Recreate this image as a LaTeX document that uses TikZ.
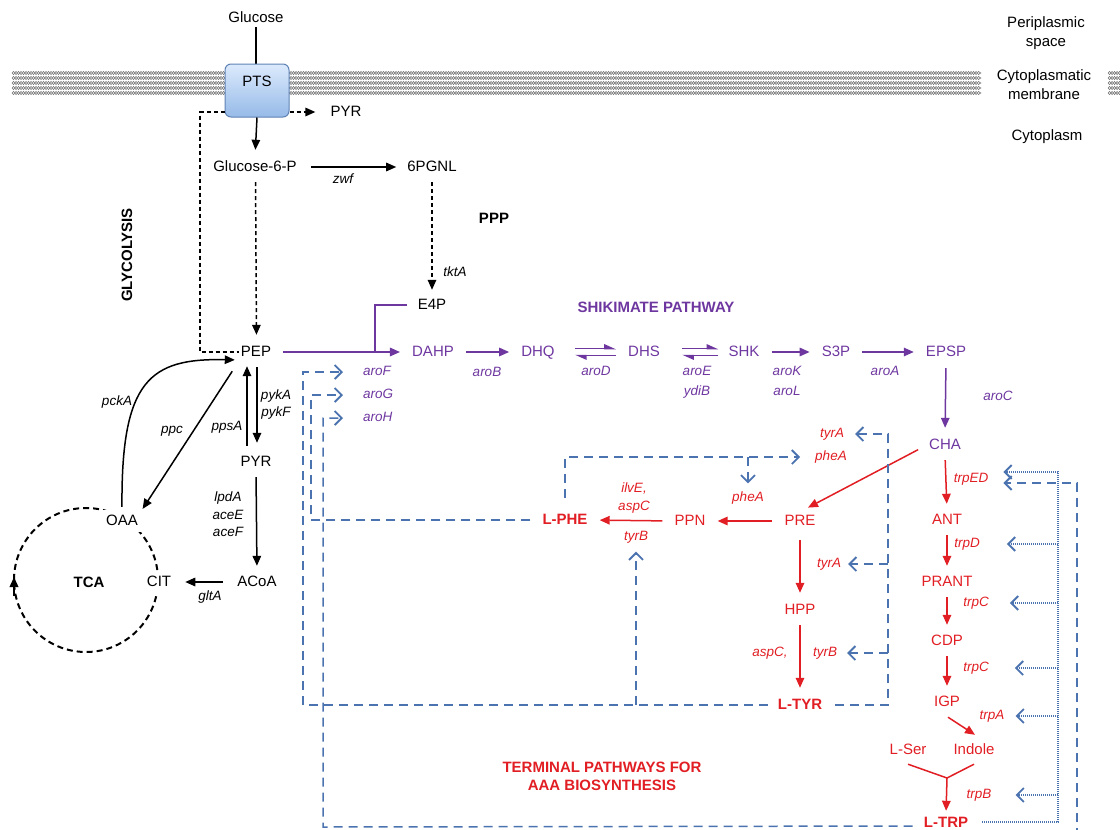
\documentclass[tikz,border=0pt]{standalone}
\usepackage{fontspec}
\setmainfont{Liberation Sans}
\usetikzlibrary{arrows.meta,decorations.pathmorphing,calc}
\definecolor{purp}{RGB}{110,55,160}
\definecolor{rd}{RGB}{225,30,35}
\definecolor{bl}{RGB}{75,115,175}
\definecolor{ptsT}{RGB}{220,234,252}
\definecolor{ptsB}{RGB}{150,186,232}
\definecolor{ptsD}{RGB}{95,130,180}
\begin{document}
\begin{tikzpicture}[x=1pt,y=-1pt,
 nd/.style={font=\fontsize{15}{19}\selectfont, inner sep=2pt, text height=11pt, text depth=3pt},
 gn/.style={font=\fontsize{13.5}{15}\selectfont\itshape, inner sep=1pt, text height=10pt, text depth=3pt},
 ttl/.style={font=\fontsize{15}{18}\selectfont\bfseries, align=center},
 bnd/.style={nd, font=\fontsize{15}{19}\selectfont\bfseries, text=rd},
 pn/.style={nd, text=purp},
 rn/.style={nd, text=rd},
 pg/.style={gn, text=purp},
 rg/.style={gn, text=rd},
 ahead/.style={-{Triangle[length=10pt,width=8.5pt]}},
 karr/.style={ahead, line width=1.5pt, black},
 parr/.style={ahead, line width=1.5pt, purp},
 rarr/.style={ahead, line width=1.5pt, rd},
 kdash/.style={line width=1.5pt, dash pattern=on 4pt off 3pt},
 fb/.style={bl, line width=1.5pt, dash pattern=on 9pt off 6pt},
 fbdot/.style={bl, line width=1.4pt, dash pattern=on 1.2pt off 0.8pt},
 fbtip/.style={-{Straight Barb[length=7pt,width=14pt,line width=1.8pt]}},
 sh/.style={shorten <=10pt, shorten >=10pt},
 vs/.style={shorten <=6pt, shorten >=7pt},
 harp/.style={purp, line width=1.5pt, -{Triangle[harpoon,length=10pt,width=8.5pt]}},
 memb/.style={black!55, line width=0.55pt, decorate, decoration={snake, amplitude=1.6pt, segment length=5pt}},
 membm/.style={black!55, line width=0.55pt, decorate, decoration={snake, amplitude=1.6pt, segment length=5pt, mirror}}
]
\useasboundingbox (0,0) rectangle (1120,830);

% membrane
\foreach \yy in {73,78,83,88,93} {
  \draw[memb] (12,\yy) -- (981,\yy);
  \draw[membm] (12,\yy) -- (981,\yy);
  \draw[memb] (1108,\yy) -- (1128,\yy);
  \draw[membm] (1108,\yy) -- (1128,\yy);
}

% TCA cycle
\draw[line width=2pt, dash pattern=on 6pt off 4pt] (86,580) circle [radius=72pt];
\draw[line width=2pt, -{Triangle[length=10pt,width=8.5pt]}] (14,596) -- (14,577);

% right labels
\node[nd, align=center, text height=, text depth=] (peri) at (1046,33) {Periplasmic\\space};
\node[nd, align=center, text height=, text depth=] (membl) at (1044,85) {Cytoplasmatic\\membrane};
\node[nd] (cyto) at (1047,136) {Cytoplasm};

% PTS
\node[nd] (glc) at (256,18) {Glucose};
\draw[line width=1.2pt] (glc.south) -- (256,64);
\node[draw=ptsD, line width=1pt, rounded corners=6pt, top color=ptsT, bottom color=ptsB, minimum width=64pt, minimum height=53pt] (pts) at (257,90.5) {};
\node[nd] (ptst) at (257,82) {PTS};
\node[nd] (pyra) at (346,112) {PYR};
\node[nd] (g6p) at (255,167) {Glucose-6-P};
\node[nd] (pgnl) at (432,167) {6PGNL};
\node[nd] (e4p) at (432,305) {E4P};
\node[nd] (pep) at (256,352) {PEP};
\node[nd] (pyrb) at (256,462) {PYR};
\node[nd] (acoa) at (257,582) {ACoA};
\node[nd, fill=white, inner sep=4pt] (cit) at (159,582) {CIT};
\node[nd, fill=white, inner sep=4pt] (oaa) at (122,521) {OAA};
\node[ttl] (tca) at (89,582) {TCA};

% titles
\node[ttl, rotate=90] (glyc) at (127,255) {GLYCOLYSIS};
\node[ttl] (ppp) at (494,218) {PPP};
\node[ttl, text=purp] (shik) at (656,307) {SHIKIMATE PATHWAY};
\node[ttl, text=rd] (term) at (602,776) {TERMINAL PATHWAYS FOR\\AAA BIOSYNTHESIS};

% shikimate nodes
\node[pn] (dahp) at (433,352) {DAHP};
\node[pn] (dhq) at (538,352) {DHQ};
\node[pn] (dhs) at (644,352) {DHS};
\node[pn] (shk) at (744,352) {SHK};
\node[pn] (s3p) at (836,352) {S3P};
\node[pn] (epsp) at (946,352) {EPSP};
\node[pn] (cha) at (945,445) {CHA};

% terminal nodes
\node[rn] (pre) at (800,521) {PRE};
\node[rn] (ppn) at (690,521) {PPN};
\node[bnd] (lphe) at (565,520) {L-PHE};
\node[rn] (hpp) at (800,610) {HPP};
\node[bnd] (ltyr) at (800,705) {L-TYR};
\node[rn] (ant) at (947,520) {ANT};
\node[rn] (prant) at (947,582) {PRANT};
\node[rn] (cdp) at (947,641) {CDP};
\node[rn] (igp) at (947,702) {IGP};
\node[rn] (indole) at (974,750) {Indole};
\node[rn] (lser) at (908,750) {L-Ser};
\node[bnd, anchor=base] (ltrp) at (946,827) {L-TRP};

% gene labels black
\node[gn] (zwf) at (343,180) {zwf};
\node[gn] (tkta) at (455,273) {tktA};
\node[gn] (pyka) at (276,396) {pykA};
\node[gn] (pykf) at (276,413) {pykF};
\node[gn] (ppsa) at (227,427) {ppsA};
\node[gn] (pcka) at (117,402) {pckA};
\node[gn] (ppc) at (172,430) {ppc};
\node[gn] (lpda) at (228,498) {lpdA};
\node[gn] (acee) at (228,516) {aceE};
\node[gn] (acef) at (228,533) {aceF};
\node[gn] (glta) at (210,597) {gltA};
% gene labels purple
\node[pg, anchor=west] (arof) at (362,372) {aroF};
\node[pg, anchor=west] (arog) at (362,395) {aroG};
\node[pg, anchor=west] (aroh) at (362,418) {aroH};
\node[pg] (arob) at (487,373) {aroB};
\node[pg] (arod) at (596,372) {aroD};
\node[pg] (aroe) at (697,372) {aroE};
\node[pg] (ydib) at (697,392) {ydiB};
\node[pg] (arok) at (787,372) {aroK};
\node[pg] (arol) at (787,392) {aroL};
\node[pg] (aroa) at (885,372) {aroA};
\node[pg] (aroc) at (998,397) {aroC};
% gene labels red
\node[rg] (tyra) at (832,434) {tyrA};
\node[rg] (phea) at (831,457) {pheA};
\node[rg] (pheb) at (748,498) {pheA};
\node[rg] (ilve) at (634,489) {ilvE,};
\node[rg] (aspc) at (634,507) {aspC};
\node[rg] (tyrb) at (636,537) {tyrB};
\node[rg] (tyrab) at (829,564) {tyrA};
\node[rg] (aspcb) at (770,653) {aspC,};
\node[rg] (tyrbb) at (825,653) {tyrB};
\node[rg] (trped) at (971,479) {trpED};
\node[rg] (trpd) at (967,544) {trpD};
\node[rg] (trpc) at (976,603) {trpC};
\node[rg] (trpcb) at (976,668) {trpC};
\node[rg] (trpa) at (992,716) {trpA};
\node[rg] (trpb) at (979,795) {trpB};

% coordinates
\coordinate (gl) at (200,352);
\coordinate (j) at (375,352);
\coordinate (tj) at (947,778);
\coordinate (vx) at (888,0);
\coordinate (dvx) at (1058,0);
\coordinate (dv0) at (982,822);

% black connectors
\draw[kdash, ahead, shorten >=13pt] (pts.east |- pyra) -- (pyra.west);
\draw[kdash] (pts.west |- pyra) -| (gl) -- (pep.west);
\draw[karr, shorten >=8pt] (pts.south) -- (g6p.north);
\draw[karr, shorten <=12pt, shorten >=9pt] (g6p.east) -- (pgnl.west);
\draw[kdash, ahead, shorten <=6pt, shorten >=6pt] (pgnl.south) -- (e4p.north);
\draw[kdash, ahead, shorten <=6pt, shorten >=8pt] ([xshift=0.5pt]g6p.south) -- ([xshift=0.5pt]pep.north);
\draw[karr, shorten <=6pt, shorten >=10pt] ([xshift=1pt]pep.south) -- ([xshift=1pt]pyrb.north);
\draw[karr, shorten <=7pt, shorten >=5pt] ([xshift=-9pt]pyrb.north) -- ([xshift=-9pt]pep.south);
\draw[karr, vs] (pyrb.south) -- (acoa.north);
\draw[karr, shorten <=12pt, shorten >=10pt] (acoa.west) -- (cit.east);
\draw[karr, shorten <=12pt, shorten >=1pt] (pep.south west) -- (oaa.north east);
\draw[karr, shorten <=3pt, shorten >=4pt] (oaa.north) .. controls (121,380) and (150,358) .. ([yshift=-8pt]pep.west);

% shikimate connectors
\draw[purp, line width=1.5pt, shorten <=9pt] (e4p.west) -| (j);
\draw[parr, shorten <=10pt, shorten >=10pt] (pep.east) -- (dahp.west);
\draw[parr, sh] (dahp.east) -- (dhq.west);
\draw[harp, shorten <=18pt, shorten >=10pt] ([yshift=3.5pt]dhq.east) -- ([yshift=3.5pt]dhs.west);
\draw[harp, shorten <=10pt, shorten >=18pt] ([yshift=-3.5pt]dhs.west) -- ([yshift=-3.5pt]dhq.east);
\draw[harp, shorten <=20pt, shorten >=8pt] ([yshift=3.5pt]dhs.east) -- ([yshift=3.5pt]shk.west);
\draw[harp, shorten <=8pt, shorten >=20pt] ([yshift=-3.5pt]shk.west) -- ([yshift=-3.5pt]dhs.east);
\draw[parr, sh] (shk.east) -- (s3p.west);
\draw[parr, sh] (s3p.east) -- (epsp.west);
\draw[parr, shorten <=7pt, shorten >=8pt] (epsp.south) -- (cha.north);

% terminal connectors
\draw[rarr, shorten <=10pt, shorten >=9pt] (cha.west) -- (pre.north);
\draw[rarr, sh] (pre.west) -- (ppn.east);
\draw[rarr, sh] (ppn.west) -- (lphe.east);
\draw[rarr, shorten <=10pt, shorten >=8pt] (pre.south) -- (hpp.north);
\draw[rarr, shorten <=6pt, shorten >=8pt] (hpp.south) -- (ltyr.north);
\draw[rarr, vs] (cha.south) -- (ant.north);
\draw[rarr, vs] (ant.south) -- (prant.north);
\draw[rarr, vs] (prant.south) -- (cdp.north);
\draw[rarr, vs] (cdp.south) -- (igp.north);
\draw[rarr] ($(igp.south)+(1,6)$) -- ($(indole.north)+(1,-6)$);
\draw[rd, line width=1.5pt] ($(lser.south)+(0,5)$) -- (tj) -- ($(indole.south)+(0,5)$);
\draw[rarr, shorten >=3pt] (tj) -- (ltrp.north);

% feedback (blue dashed)
\draw[fb, fbtip, shorten <=10pt, shorten >=19pt] (lphe.west) -- (311,520) |- (arog.west);
\draw[fb, fbtip, shorten <=13pt, shorten >=14pt] (lphe.north) |- (phea.west);
\draw[fb, fbtip, shorten >=7pt] (pheb.north |- phea.west) -- (pheb.north);
\draw[fb, fbtip, shorten <=8pt, shorten >=19pt] (ltyr.west) -- (303,705) |- (arof.west);
\draw[fb, fbtip, shorten <=11pt, shorten >=10pt] (ltyr.east) -- (888,705) |- (tyra.east);
\draw[fb, fbtip, shorten >=6pt] (tyrab.east -| vx) -- (tyrab.east);
\draw[fb, fbtip, shorten >=9pt] (tyrbb.east -| vx) -- (tyrbb.east);
\draw[fb, fbtip, shorten >=7pt] (tyrb.south |- ltyr) -- (tyrb.south);
\draw[fb, fbtip, shorten <=9pt, shorten >=19pt] ([yshift=-3pt]ltrp.west) -- (323,827) |- (aroh.west);
\draw[fb, fbtip, shorten >=14pt] ([yshift=-12pt]ltrp.east) -- (1077,835) -- (1077,483) -- ([yshift=-4pt]trped.east);

% feedback (blue dotted)
\draw[fbdot, fbtip, shorten >=14pt] (dv0) -- (1058,822) -- (1058,472) -- ([yshift=7pt]trped.east);
\draw[fbdot, fbtip, shorten >=26pt] (trpd.east -| dvx) -- (trpd.east);
\draw[fbdot, fbtip, shorten >=20pt] (trpc.east -| dvx) -- (trpc.east);
\draw[fbdot, fbtip, shorten >=25pt] (trpcb.east -| dvx) -- (trpcb.east);
\draw[fbdot, fbtip, shorten >=10pt] (trpa.east -| dvx) -- (trpa.east);
\draw[fbdot, fbtip, shorten >=23pt] (trpb.east -| dvx) -- (trpb.east);
\end{tikzpicture}
\end{document}
